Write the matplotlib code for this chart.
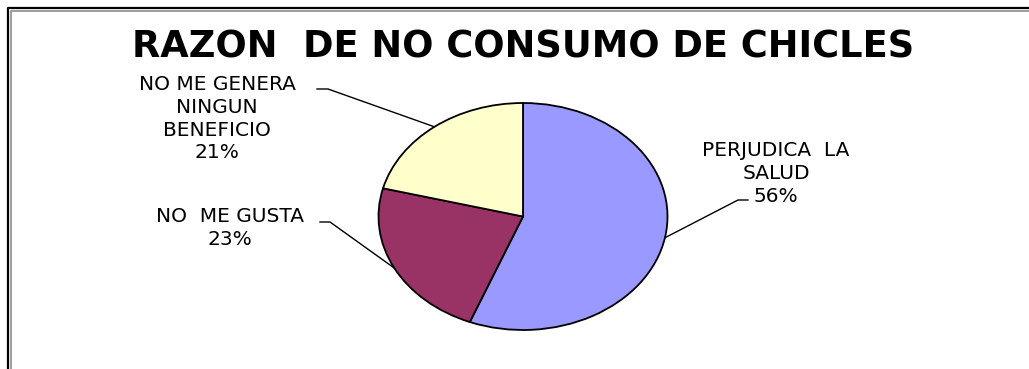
import numpy as np
import matplotlib.pyplot as plt

# razones de no consumo (porcentaje de encuestados)
categorias = ['PERJUDICA  LA\nSALUD', 'NO  ME GUSTA', 'NO ME GENERA\nNINGUN\nBENEFICIO']
porcentajes = [56, 23, 21]
colores = ['#9999FF', '#993366', '#FFFFCC']

W, H = 1029, 369

# centro y semiejes del pastel en pixeles
cx, cy, rx, ry = 523, 216.5, 144.5, 113.5

# posicion de cada etiqueta (centro x, y superior) y codo de la guia
etiquetas_pos = [(776, 141), (230, 207), (217, 75)]
codos = [((738, 200), (748, 200)), ((330, 222), (320, 222)), ((328, 89), (317, 89))]

fig = plt.figure(figsize=(W / 100, H / 100), dpi=100)
fig.patch.set_facecolor('white')

ax_pie = fig.add_axes([(cx - rx) / W, (H - cy - ry) / H, 2 * rx / W, 2 * ry / H])
wedges, _ = ax_pie.pie(porcentajes, colors=colores, startangle=90, counterclock=False,
                       wedgeprops=dict(edgecolor='black', linewidth=1.3))
for w in wedges:
    w.set_clip_on(False)
ax_pie.set_aspect('auto')
ax_pie.set_xlim(-1, 1)
ax_pie.set_ylim(-1, 1)
ax_pie.axis('off')

ax = fig.add_axes([0, 0, 1, 1], zorder=-1)
ax.set_xlim(0, W)
ax.set_ylim(H, 0)
ax.axis('off')

# marco del grafico (linea negra y gris)
ax.plot([8, 8, W], [H, 8, 8], color='black', lw=1.6, solid_capstyle='butt')
ax.plot([10.5, 10.5, W], [H, 10.5, 10.5], color='#8c8c8c', lw=1.2, solid_capstyle='butt')

ax.text(523, 57, 'RAZON  DE NO CONSUMO DE CHICLES', ha='center', va='baseline',
        fontsize=26.5, fontweight='bold', color='black')

# guias desde el punto medio de cada porcion
inicio = 90.0
for cat, pct, (tx, ty), (codo, fin) in zip(categorias, porcentajes, etiquetas_pos, codos):
    medio = np.deg2rad(inicio - pct * 3.6 / 2)
    inicio -= pct * 3.6
    px = cx + rx * np.cos(medio)
    py = cy - ry * np.sin(medio)
    ax.plot([px, codo[0], fin[0]], [py, codo[1], fin[1]], color='black', lw=1.0)
    ax.text(tx, ty, f'{cat}\n{pct}%', ha='center', va='top', fontsize=14.5,
            linespacing=1.25, color='black')

fig.savefig('out.png', dpi=100, facecolor='white')
